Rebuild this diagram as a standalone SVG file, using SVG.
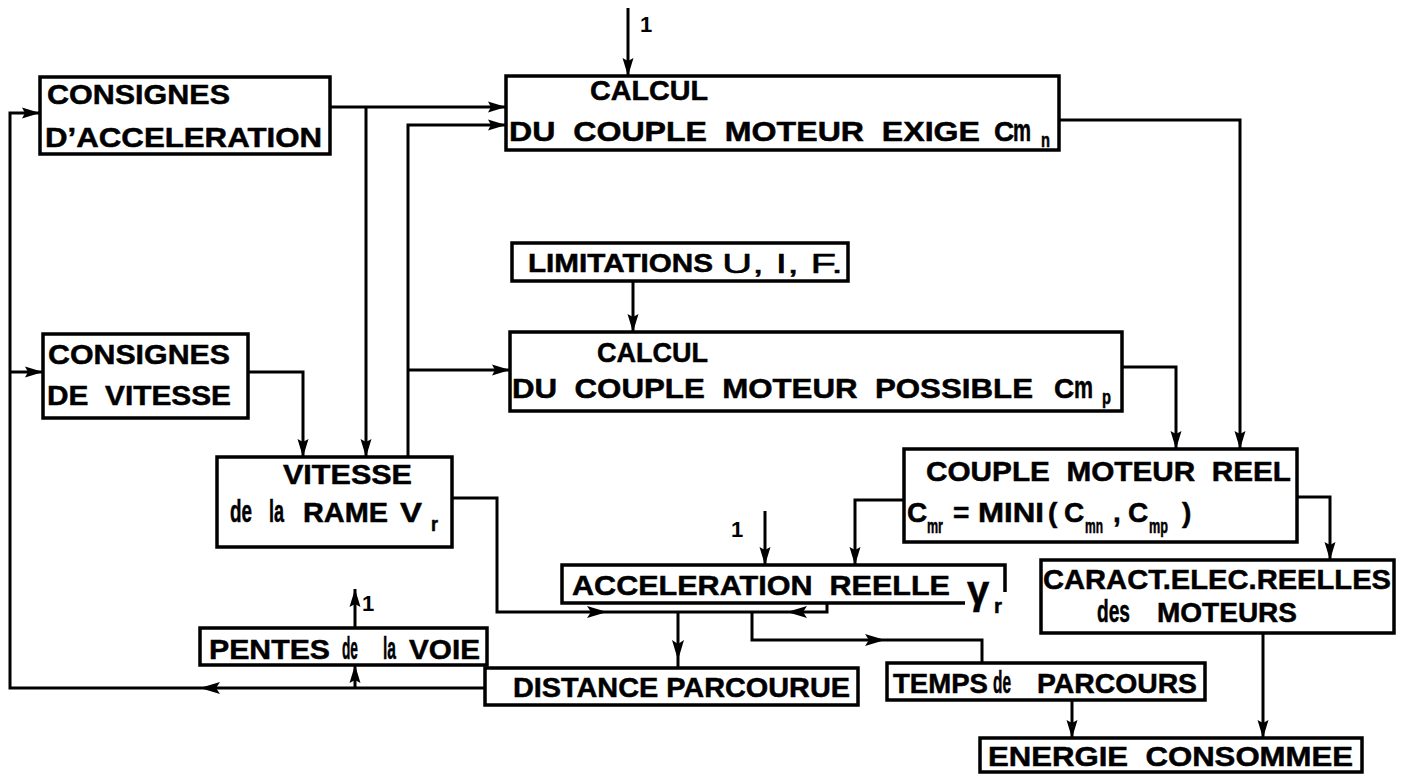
<svg xmlns="http://www.w3.org/2000/svg" xmlns:xlink="http://www.w3.org/1999/xlink" width="1412" height="774" viewBox="0 0 1412 774">
<style>
.box{fill:#fff;stroke:#000;stroke-width:3.5;stroke-linejoin:miter}
.ln{fill:none;stroke:#000;stroke-width:3}
.t{font-family:"Liberation Sans",Arial,sans-serif;font-weight:bold;font-size:28px;fill:#000;stroke:#000;stroke-width:0.5}
.s{font-size:20px}
.lc{font-size:32px}
.lbl{font-family:"Liberation Sans",Arial,sans-serif;font-weight:bold;font-size:22px;fill:#000}
.ah{fill:#000}
</style>
<defs>
<marker id="arr" viewBox="0 0 18 12" refX="18" refY="6" markerWidth="18" markerHeight="12" markerUnits="userSpaceOnUse" orient="auto"><path d="M0,0.5 L18,6 L0,11.5 L3,6 Z" fill="#000"/></marker>
<path id="ah" d="M0,0 L-20,-6 L-16,0 L-20,6 Z"/>
</defs>
<rect width="1412" height="774" fill="#fff"/>

<g id="connectors">
<path class="ln" d="M628,8 V76" marker-end="url(#arr)"/>
<path class="ln" d="M330,107 H506" marker-end="url(#arr)"/>
<path class="ln" d="M366,107 V457" marker-end="url(#arr)"/>
<path class="ln" d="M408,457 V125 H506" marker-end="url(#arr)"/>
<path class="ln" d="M408,370 H510" marker-end="url(#arr)"/>
<path class="ln" d="M485,688 H10 V113 H40" marker-end="url(#arr)"/>
<path class="ln" d="M10,372 H43" marker-end="url(#arr)"/>
<path class="ln" d="M248,372 H303 V457" marker-end="url(#arr)"/>
<path class="ln" d="M633,281 V332" marker-end="url(#arr)"/>
<path class="ln" d="M1059,120 H1240 V449" marker-end="url(#arr)"/>
<path class="ln" d="M1122,367 H1176 V449" marker-end="url(#arr)"/>
<path class="ln" d="M904,500 H855 V565" marker-end="url(#arr)"/>
<path class="ln" d="M1297,497 H1330 V560" marker-end="url(#arr)"/>
<path class="ln" d="M765,511 V565" marker-end="url(#arr)"/>
<path class="ln" d="M452,498 H497 V612 H827 V603"/>
<path class="ln" d="M678,612 V668"/>
<path class="ln" d="M752,612 V640 H982 V663"/>
<path class="ln" d="M1072,700 V738" marker-end="url(#arr)"/>
<path class="ln" d="M1263,633 V738" marker-end="url(#arr)"/>
<path class="ln" d="M355,688 V665" marker-end="url(#arr)"/>
<path class="ln" d="M355,628 V589" marker-end="url(#arr)"/>
<use xlink:href="#ah" class="ah" transform="translate(200,688) rotate(180)"/>
<use xlink:href="#ah" class="ah" transform="translate(607,612)"/>
<use xlink:href="#ah" class="ah" transform="translate(787,612) rotate(180)"/>
<use xlink:href="#ah" class="ah" transform="translate(678,660) rotate(90)"/>
<use xlink:href="#ah" class="ah" transform="translate(885,640)"/>
<text class="lbl" x="640" y="32">1</text>
<text class="lbl" x="731" y="537">1</text>
<text class="lbl" x="362" y="611">1</text>
</g>

<g id="consignes-acceleration">
<rect class="box" x="40" y="77" width="290" height="77"/>
<text class="t" x="47" y="104" textLength="183" lengthAdjust="spacingAndGlyphs">CONSIGNES</text>
<text class="t" x="45" y="147" textLength="277" lengthAdjust="spacingAndGlyphs">D’ACCELERATION</text>
</g>

<g id="calcul-exige">
<rect class="box" x="506" y="76" width="553" height="74"/>
<text class="t" x="590" y="100" textLength="118" lengthAdjust="spacingAndGlyphs">CALCUL</text>
<text class="t" x="509" y="141" textLength="471" lengthAdjust="spacingAndGlyphs" xml:space="preserve">DU  COUPLE  MOTEUR  EXIGE</text>
<text class="t" x="994" y="141">C</text>
<text class="t lc" x="1013" y="141" textLength="18" lengthAdjust="spacingAndGlyphs">m</text>
<text class="t s" x="1041" y="147" textLength="9" lengthAdjust="spacingAndGlyphs">n</text>
</g>

<g id="limitations">
<rect class="box" x="512" y="243" width="336" height="38"/>
<text class="t" x="528" y="272" style="font-size:26px" textLength="185" lengthAdjust="spacingAndGlyphs">LIMITATIONS</text>
<text class="t" x="722" y="273" textLength="121" lengthAdjust="spacingAndGlyphs" xml:space="preserve" style="font-weight:normal">U, I, F.</text>
</g>

<g id="calcul-possible">
<rect class="box" x="510" y="332" width="612" height="79"/>
<text class="t" x="597" y="362" textLength="111" lengthAdjust="spacingAndGlyphs">CALCUL</text>
<text class="t" x="512" y="398" textLength="521" lengthAdjust="spacingAndGlyphs" xml:space="preserve">DU  COUPLE  MOTEUR  POSSIBLE</text>
<text class="t" x="1054" y="398">C</text>
<text class="t lc" x="1074" y="398" textLength="19" lengthAdjust="spacingAndGlyphs">m</text>
<text class="t s" x="1102" y="404" textLength="9" lengthAdjust="spacingAndGlyphs">p</text>
</g>

<g id="consignes-vitesse">
<rect class="box" x="43" y="334" width="205" height="84"/>
<text class="t" x="48" y="364" textLength="182" lengthAdjust="spacingAndGlyphs">CONSIGNES</text>
<text class="t" x="47" y="405" textLength="184" lengthAdjust="spacingAndGlyphs" xml:space="preserve">DE  VITESSE</text>
</g>

<g id="vitesse-rame">
<rect class="box" x="217" y="457" width="235" height="90"/>
<text class="t" x="283" y="484" textLength="129" lengthAdjust="spacingAndGlyphs">VITESSE</text>
<text class="t lc" x="230" y="522" textLength="22" lengthAdjust="spacingAndGlyphs">de</text>
<text class="t lc" x="269" y="522" textLength="15" lengthAdjust="spacingAndGlyphs">la</text>
<text class="t" x="303" y="522" textLength="85" lengthAdjust="spacingAndGlyphs">RAME</text>
<text class="t" x="400" y="522" textLength="22" lengthAdjust="spacingAndGlyphs">V</text>
<text class="t s" x="431" y="531" textLength="7" lengthAdjust="spacingAndGlyphs">r</text>
</g>

<g id="couple-reel">
<rect class="box" x="904" y="449" width="393" height="93"/>
<text class="t" x="926" y="481" textLength="365" lengthAdjust="spacingAndGlyphs" xml:space="preserve">COUPLE  MOTEUR  REEL</text>
<text class="t" x="907" y="522">C</text>
<text class="t s" x="927" y="533" textLength="16" lengthAdjust="spacingAndGlyphs">mr</text>
<text class="t" x="953" y="522">=</text>
<text class="t" x="978" y="522" textLength="66" lengthAdjust="spacingAndGlyphs">MINI</text>
<text class="t" x="1048" y="522">(</text>
<text class="t" x="1064" y="522">C</text>
<text class="t s" x="1085" y="533" textLength="18" lengthAdjust="spacingAndGlyphs">mn</text>
<text class="t" x="1113" y="522">,</text>
<text class="t" x="1128" y="522">C</text>
<text class="t s" x="1149" y="533" textLength="19" lengthAdjust="spacingAndGlyphs">mp</text>
<text class="t" x="1182" y="522">)</text>
</g>

<g id="acceleration-reelle">
<path class="box" d="M965,603 H562 V565 H1005 V592"/>
<text class="t" x="572" y="595" textLength="378" lengthAdjust="spacingAndGlyphs" xml:space="preserve">ACCELERATION  REELLE</text>
<text class="t" x="967" y="604" style="font-size:40px">γ</text>
<text class="t s" x="994" y="613" textLength="8" lengthAdjust="spacingAndGlyphs">r</text>
</g>

<g id="caract-elec">
<rect class="box" x="1041" y="560" width="353" height="73"/>
<text class="t" x="1043" y="589" textLength="348" lengthAdjust="spacingAndGlyphs">CARACT.ELEC.REELLES</text>
<text class="t lc" x="1097" y="622" textLength="33" lengthAdjust="spacingAndGlyphs">des</text>
<text class="t" x="1157" y="622" textLength="140" lengthAdjust="spacingAndGlyphs">MOTEURS</text>
</g>

<g id="pentes-voie">
<rect class="box" x="200" y="628" width="287" height="37"/>
<text class="t" x="209" y="659" textLength="121" lengthAdjust="spacingAndGlyphs">PENTES</text>
<text class="t lc" x="342" y="659" textLength="16" lengthAdjust="spacingAndGlyphs">de</text>
<text class="t lc" x="383" y="659" textLength="13" lengthAdjust="spacingAndGlyphs">la</text>
<text class="t" x="409" y="659" textLength="71" lengthAdjust="spacingAndGlyphs">VOIE</text>
</g>

<g id="distance-parcourue">
<rect class="box" x="485" y="668" width="373" height="37"/>
<text class="t" x="513" y="697" textLength="337" lengthAdjust="spacingAndGlyphs">DISTANCE PARCOURUE</text>
</g>

<g id="temps-parcours">
<rect class="box" x="887" y="663" width="318" height="37"/>
<text class="t" x="893" y="693" textLength="95" lengthAdjust="spacingAndGlyphs">TEMPS</text>
<text class="t lc" x="993" y="693" textLength="18" lengthAdjust="spacingAndGlyphs">de</text>
<text class="t" x="1037" y="693" textLength="160" lengthAdjust="spacingAndGlyphs">PARCOURS</text>
</g>

<g id="energie-consommee">
<rect class="box" x="980" y="738" width="382" height="34"/>
<text class="t" x="988" y="766" textLength="365" lengthAdjust="spacingAndGlyphs" xml:space="preserve">ENERGIE  CONSOMMEE</text>
</g>
</svg>
